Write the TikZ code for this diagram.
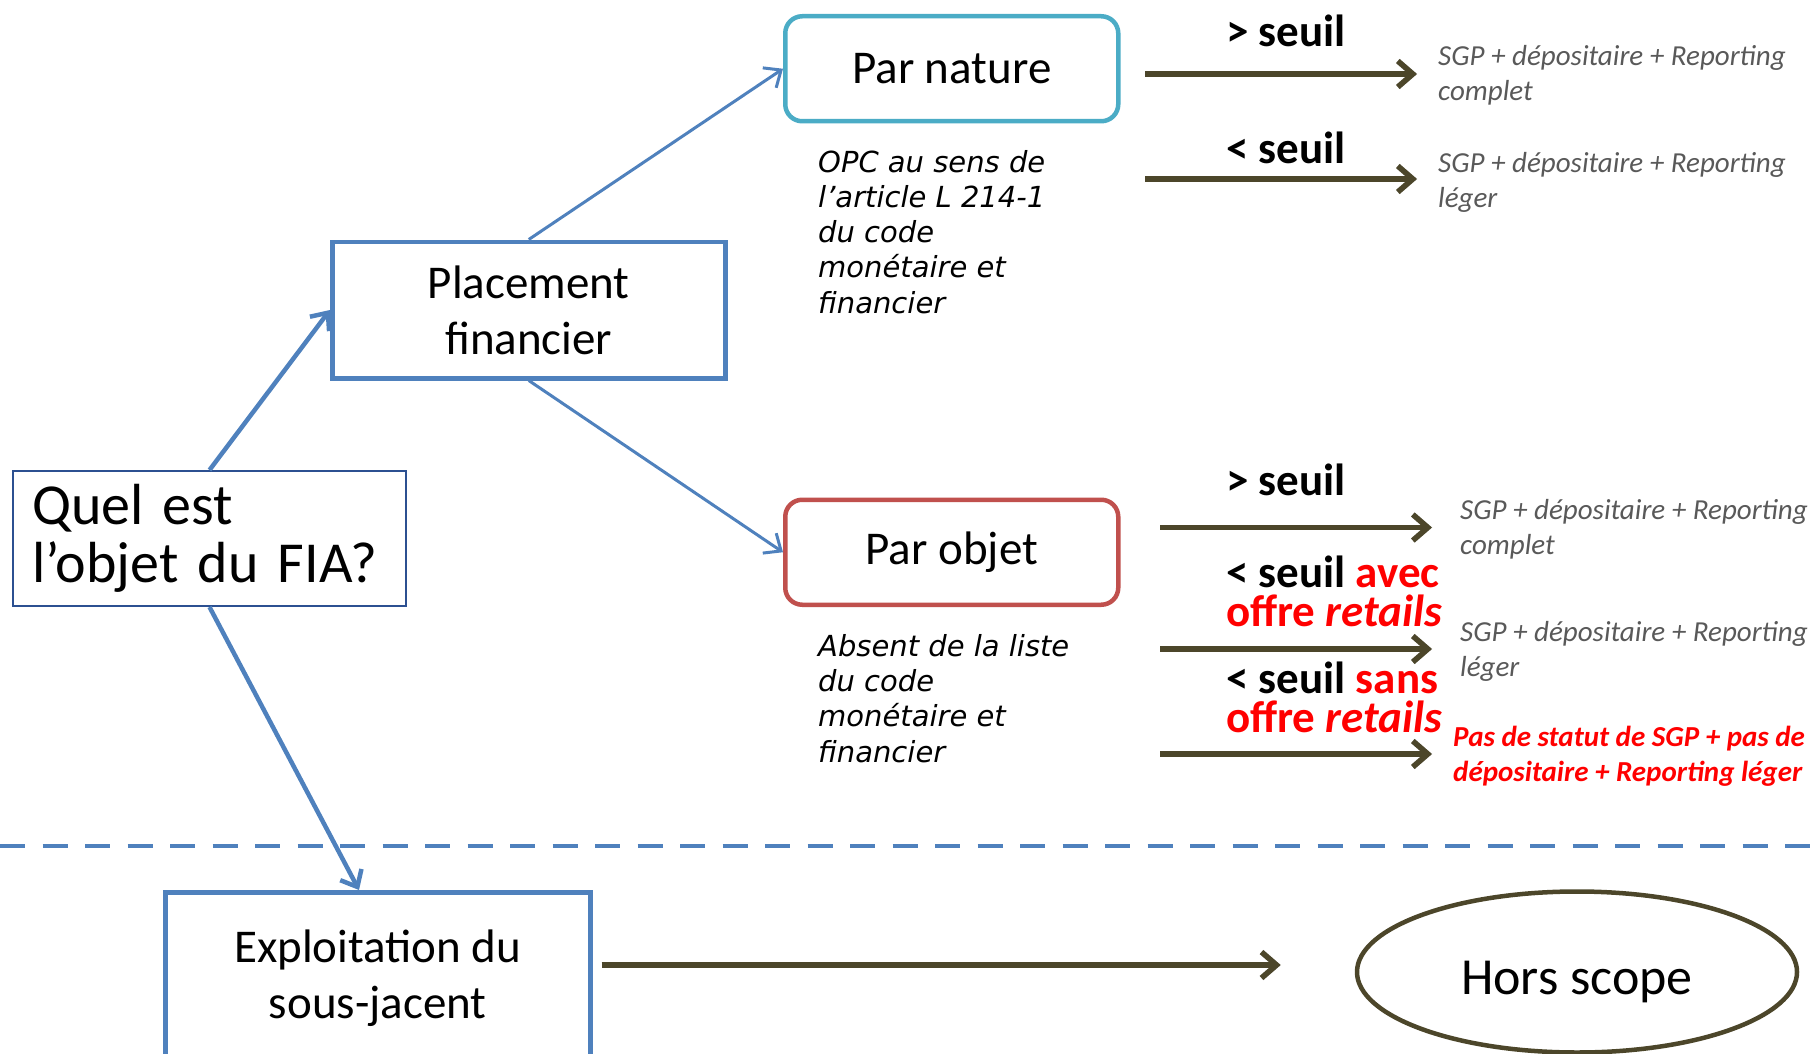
\documentclass[tikz,border=0pt]{standalone}
\usepackage{fontspec}
\setmainfont{Carlito}
\newfontfamily\verd{DejaVu Sans}
\usetikzlibrary{arrows.meta,shapes.geometric}
\definecolor{qblue}{RGB}{44,80,145}
\definecolor{pblue}{RGB}{79,129,189}
\definecolor{nblue}{RGB}{75,172,198}
\definecolor{ored}{RGB}{192,80,77}
\definecolor{olive}{RGB}{76,70,42}
\definecolor{gtext}{RGB}{89,89,89}
\definecolor{rtext}{RGB}{255,0,0}
\begin{document}
\begin{tikzpicture}[x=1pt,y=-1pt,
  bluearrow/.style={draw=pblue, line width=#1, -{Straight Barb[length=14pt,width=24pt]}},
  olivearrow/.style={draw=olive, line width=5.5pt, -{Straight Barb[length=15pt,width=26pt]}},
  shadowarrow/.style={draw=black, opacity=0.18, line width=5.5pt, shift={(2,4)}, -{Straight Barb[length=15pt,width=26pt]}},
  bigbox/.style={draw=pblue, line width=4.5pt, fill=white, align=center, inner sep=0pt,
     font=\fontsize{47}{56}\selectfont},
  roundbox/.style={line width=4.5pt, rounded corners=17pt, fill=white, inner sep=0pt,
     minimum width=333, minimum height=105, font=\fontsize{47}{56}\selectfont},
  seuil/.style={anchor=base west, align=left, inner sep=0pt, font=\fontsize{45}{39}\selectfont\bfseries},
  result/.style={anchor=base west, align=left, inner sep=0pt, text=gtext, font=\fontsize{29}{35}\selectfont\itshape},
  redresult/.style={anchor=base west, align=left, inner sep=0pt, text=rtext, font=\fontsize{29}{35}\selectfont\bfseries\itshape},
  note/.style={anchor=base west, align=left, inner sep=0pt, font=\verd\itshape\fontsize{29}{35.3}\selectfont}
]
\useasboundingbox (0,0) rectangle (1814,1054);
\clip (0,0) rectangle (1814,1054);

% dashed separator
\coordinate (dl) at (0,846);
\coordinate (dr) at (1814,846);
\draw[pblue, line width=4.5pt, dash pattern=on 25pt off 17.5pt] (dl) -- (dr);

% boxes
\node[draw=qblue, line width=2pt, fill=white, anchor=north west, minimum width=393, minimum height=135,
      text width=355, inner xsep=19pt, inner ysep=0pt, align=left,
      font=\fontsize{58}{58}\selectfont] (q) at (12,470) {Quel est\\l’objet du FIA?};
\node[bigbox, anchor=north west, minimum width=393, minimum height=136.5] (p) at (330,239.5) {Placement\\financier};
\node[roundbox, draw=nblue, anchor=north west] (n) at (783,14) {Par nature};
\node[roundbox, draw=ored, anchor=north west] (o) at (783,497.5) {Par objet};
\node[bigbox, anchor=north west, minimum width=425, minimum height=172] (e) at (163,890) {Exploitation du\\sous-jacent};
\node[ellipse, draw=olive, line width=4.5pt, minimum width=440, minimum height=161, inner sep=0pt,
      text height=57pt, text depth=13pt,
      font=\fontsize{52}{60}\selectfont] (h) at (1577,972) {Hors scope};

% blue connectors
\draw[bluearrow=4.5pt] (q.north) -- (p.west);
\draw[bluearrow=3pt] (p.north) -- (n.west);
\draw[bluearrow=3pt] (p.south) -- (o.west);
\draw[bluearrow=4.5pt] (q.south) -- ([xshift=196pt]e.north west);

% notes under the boxes (anchor = baseline of last line)
\node[note] (n1) at (818,313.2) {OPC au sens de\\l’article L 214-1\\du code\\monétaire et\\financier};
\node[note] (n2) at (818,762) {Absent de la liste\\du code\\monétaire et\\financier};

% threshold labels
\node[seuil] (s1) at (1226,47) {> seuil};
\node[seuil] (s2) at (1226,163) {< seuil};
\node[seuil] (s3) at (1226,495) {> seuil};
\node[seuil] (s4) at (1226,626) {< seuil \textcolor{rtext}{avec}\\\textcolor{rtext}{offre \textit{retails}}};
\node[seuil] (s5) at (1226,732) {< seuil \textcolor{rtext}{sans}\\\textcolor{rtext}{offre \textit{retails}}};

% results
\node[result] (r1) at (1438,101) {SGP + dépositaire + Reporting\\complet};
\node[result] (r2) at (1438,207) {SGP + dépositaire + Reporting\\léger};
\node[result] (r3) at (1460,554) {SGP + dépositaire + Reporting\\complet};
\node[result] (r4) at (1460,676) {SGP + dépositaire + Reporting\\léger};
\node[redresult] (r5) at (1453,781) {Pas de statut de SGP + pas de\\dépositaire + Reporting léger};

% olive arrows
\coordinate (a1s) at (1145,74);  \coordinate (a1e) at (1417,74);
\coordinate (a2s) at (1145,179); \coordinate (a2e) at (1417,179);
\coordinate (a3s) at (1160,527.5); \coordinate (a3e) at (1432,527.5);
\coordinate (a4s) at (1160,649); \coordinate (a4e) at (1432,649);
\coordinate (a5s) at (1160,754); \coordinate (a5e) at (1432,754);
\coordinate (a6s) at (601.6,965); \coordinate (a6e) at (1280.7,965);
\foreach \i in {1,...,6}{
  \draw[shadowarrow] (a\i s) -- (a\i e);
  \draw[olivearrow] (a\i s) -- (a\i e);
}
\end{tikzpicture}
\end{document}
